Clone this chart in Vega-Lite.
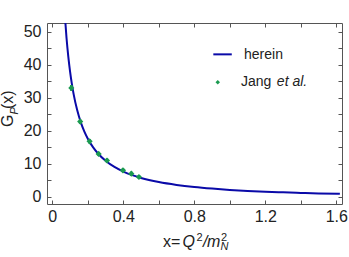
{
  "$schema": "https://vega.github.io/schema/vega-lite/v6.json",
  "width": 295,
  "height": 181,
  "autosize": {"type": "none"},
  "padding": {"left": 47, "top": 23, "right": 7, "bottom": 53},
  "background": "white",
  "config": {
    "view": {"stroke": "#555555", "strokeWidth": 1},
    "font": "Liberation Sans",
    "axis": {
      "labelFont": "Liberation Sans",
      "labelFontSize": 16,
      "labelColor": "#222222",
      "domain": false,
      "grid": false,
      "ticks": true,
      "tickColor": "#555555",
      "tickWidth": 1,
      "tickSize": -4,
      "title": null
    }
  },
  "datasets": {
    "curve": [
      {"x": 0.07, "y": 55.4}, {"x": 0.08, "y": 48.15}, {"x": 0.09, "y": 42.47},
      {"x": 0.10, "y": 37.93}, {"x": 0.11, "y": 34.22}, {"x": 0.12, "y": 31.13},
      {"x": 0.14, "y": 26.28}, {"x": 0.16, "y": 22.65}, {"x": 0.18, "y": 19.84},
      {"x": 0.20, "y": 17.60}, {"x": 0.23, "y": 14.97}, {"x": 0.26, "y": 12.96},
      {"x": 0.30, "y": 10.91}, {"x": 0.35, "y": 9.03}, {"x": 0.40, "y": 7.63},
      {"x": 0.45, "y": 6.56}, {"x": 0.50, "y": 5.71}, {"x": 0.60, "y": 4.46},
      {"x": 0.70, "y": 3.59}, {"x": 0.80, "y": 2.95}, {"x": 0.90, "y": 2.47},
      {"x": 1.00, "y": 2.08}, {"x": 1.10, "y": 1.78}, {"x": 1.20, "y": 1.53},
      {"x": 1.30, "y": 1.33}, {"x": 1.40, "y": 1.16}, {"x": 1.50, "y": 1.02},
      {"x": 1.62, "y": 0.88}
    ],
    "jang": [
      {"x": 0.107, "y": 33.0, "lo": 32.1, "hi": 33.9},
      {"x": 0.157, "y": 22.8, "lo": 22.1, "hi": 23.5},
      {"x": 0.210, "y": 16.8, "lo": 16.1, "hi": 17.5},
      {"x": 0.261, "y": 13.0, "lo": 12.4, "hi": 13.6},
      {"x": 0.308, "y": 11.0, "lo": 10.4, "hi": 11.6},
      {"x": 0.398, "y": 8.0, "lo": 7.4, "hi": 8.6},
      {"x": 0.445, "y": 7.0, "lo": 6.4, "hi": 7.6},
      {"x": 0.488, "y": 6.0, "lo": 5.4, "hi": 6.6}
    ]
  },
  "resolve": {"axis": {"x": "independent", "y": "independent"}},
  "layer": [
    {
      "data": {"name": "curve"},
      "mark": {"type": "line", "color": "#0a0aa8", "strokeWidth": 2, "clip": true, "interpolate": "monotone"},
      "encoding": {
        "x": {
          "field": "x", "type": "quantitative",
          "scale": {"domain": [-0.03, 1.632], "nice": false, "zero": false},
          "axis": {
            "orient": "bottom",
            "values": [0, 0.2, 0.4, 0.6, 0.8, 1.0, 1.2, 1.4, 1.6],
            "labelExpr": "abs(datum.value/0.4 - round(datum.value/0.4)) < 0.001 ? (datum.value == 0 ? '0' : format(datum.value, '.1f')) : ''",
            "labelPadding": 8,
            "labelFlush": false,
            "labelOverlap": false,
            "encode": {"ticks": {"update": {"y2": {"signal": "abs(datum.value/0.4 - round(datum.value/0.4)) < 0.001 ? -5 : -3"}}}}
          }
        },
        "y": {
          "field": "y", "type": "quantitative",
          "scale": {"domain": [-2.2, 52.7], "nice": false, "zero": false},
          "axis": {
            "orient": "left",
            "values": [0, 5, 10, 15, 20, 25, 30, 35, 40, 45, 50],
            "labelExpr": "datum.value % 10 === 0 ? datum.label : ''",
            "labelPadding": 10,
            "labelFlush": false,
            "labelOverlap": false,
            "encode": {"ticks": {"update": {"x2": {"signal": "datum.value % 10 === 0 ? 5 : 3"}}}}
          }
        }
      }
    },
    {
      "data": {"name": "jang"},
      "mark": {"type": "rule", "color": "#1a9a50", "strokeWidth": 2.5},
      "encoding": {
        "x": {"field": "x", "type": "quantitative", "axis": null},
        "y": {"field": "lo", "type": "quantitative", "axis": null},
        "y2": {"field": "hi"}
      }
    },
    {
      "data": {"name": "jang"},
      "mark": {"type": "point", "shape": "diamond", "filled": true, "color": "#1a9a50", "size": 38, "opacity": 1},
      "encoding": {
        "x": {
          "field": "x", "type": "quantitative",
          "axis": {
            "orient": "top", "labels": false,
            "values": [0, 0.2, 0.4, 0.6, 0.8, 1.0, 1.2, 1.4, 1.6],
            "encode": {"ticks": {"update": {"y2": {"signal": "abs(datum.value/0.4 - round(datum.value/0.4)) < 0.001 ? 5 : 3"}}}}
          }
        },
        "y": {
          "field": "y", "type": "quantitative",
          "axis": {
            "orient": "right", "labels": false,
            "values": [0, 5, 10, 15, 20, 25, 30, 35, 40, 45, 50],
            "encode": {"ticks": {"update": {"x2": {"signal": "datum.value % 10 === 0 ? -5 : -3"}}}}
          }
        }
      }
    },
    {
      "data": {"values": [{}]},
      "mark": {"type": "rule", "color": "#0a0aa8", "strokeWidth": 2},
      "encoding": {
        "x": {"datum": 0.907, "type": "quantitative", "axis": null},
        "x2": {"datum": 1.011},
        "y": {"datum": 43.19, "type": "quantitative", "axis": null}
      }
    },
    {
      "data": {"values": [{}]},
      "mark": {"type": "point", "shape": "diamond", "filled": true, "color": "#1a9a50", "size": 20, "opacity": 1},
      "encoding": {
        "x": {"datum": 0.932, "type": "quantitative", "axis": null},
        "y": {"datum": 34.7, "type": "quantitative", "axis": null}
      }
    },
    {
      "data": {"values": [{}]},
      "mark": {"type": "text", "text": "herein", "align": "left", "baseline": "alphabetic", "fontSize": 14, "font": "Liberation Sans", "color": "#222222"},
      "encoding": {
        "x": {"datum": 1.08, "type": "quantitative", "axis": null},
        "y": {"datum": 41.67, "type": "quantitative", "axis": null}
      }
    },
    {
      "data": {"values": [{}]},
      "mark": {"type": "text", "text": "Jang", "align": "left", "baseline": "alphabetic", "fontSize": 14, "font": "Liberation Sans", "color": "#222222"},
      "encoding": {
        "x": {"datum": 1.063, "type": "quantitative", "axis": null},
        "y": {"datum": 33.58, "type": "quantitative", "axis": null}
      }
    },
    {
      "data": {"values": [{}]},
      "mark": {"type": "text", "text": "et al.", "align": "left", "baseline": "alphabetic", "fontSize": 14, "font": "Liberation Sans", "fontStyle": "italic", "color": "#222222"},
      "encoding": {
        "x": {"datum": 1.265, "type": "quantitative", "axis": null},
        "y": {"datum": 33.58, "type": "quantitative", "axis": null}
      }
    },
    {
      "data": {"values": [{}]},
      "mark": {"type": "text", "text": "x=", "align": "left", "baseline": "alphabetic", "fontSize": 16, "font": "Liberation Sans", "color": "#222222"},
      "encoding": {
        "x": {"datum": 0.6237, "type": "quantitative", "axis": null},
        "y": {"datum": -15.17, "type": "quantitative", "axis": null}
      }
    },
    {
      "data": {"values": [{}]},
      "mark": {"type": "text", "text": "Q", "align": "left", "baseline": "alphabetic", "fontSize": 16, "font": "Liberation Sans", "fontStyle": "italic", "color": "#222222"},
      "encoding": {
        "x": {"datum": 0.7335, "type": "quantitative", "axis": null},
        "y": {"datum": -15.17, "type": "quantitative", "axis": null}
      }
    },
    {
      "data": {"values": [{}]},
      "mark": {"type": "text", "text": "2", "align": "left", "baseline": "alphabetic", "fontSize": 11, "font": "Liberation Sans", "color": "#222222"},
      "encoding": {
        "x": {"datum": 0.8124, "type": "quantitative", "axis": null},
        "y": {"datum": -13.44, "type": "quantitative", "axis": null}
      }
    },
    {
      "data": {"values": [{}]},
      "mark": {"type": "text", "text": "/", "align": "left", "baseline": "alphabetic", "fontSize": 16, "font": "Liberation Sans", "fontStyle": "italic", "color": "#222222"},
      "encoding": {
        "x": {"datum": 0.849, "type": "quantitative", "axis": null},
        "y": {"datum": -15.17, "type": "quantitative", "axis": null}
      }
    },
    {
      "data": {"values": [{}]},
      "mark": {"type": "text", "text": "m", "align": "left", "baseline": "alphabetic", "fontSize": 16, "font": "Liberation Sans", "fontStyle": "italic", "color": "#222222"},
      "encoding": {
        "x": {"datum": 0.8715, "type": "quantitative", "axis": null},
        "y": {"datum": -15.17, "type": "quantitative", "axis": null}
      }
    },
    {
      "data": {"values": [{}]},
      "mark": {"type": "text", "text": "2", "align": "left", "baseline": "alphabetic", "fontSize": 11, "font": "Liberation Sans", "color": "#222222"},
      "encoding": {
        "x": {"datum": 0.9504, "type": "quantitative", "axis": null},
        "y": {"datum": -13.44, "type": "quantitative", "axis": null}
      }
    },
    {
      "data": {"values": [{}]},
      "mark": {"type": "text", "text": "N", "align": "left", "baseline": "alphabetic", "fontSize": 11, "font": "Liberation Sans", "fontStyle": "italic", "color": "#222222"},
      "encoding": {
        "x": {"datum": 0.9476, "type": "quantitative", "axis": null},
        "y": {"datum": -16.17, "type": "quantitative", "axis": null}
      }
    },
    {
      "data": {"values": [{}]},
      "mark": {"type": "text", "text": "G", "angle": 270, "align": "left", "baseline": "alphabetic", "fontSize": 16, "font": "Liberation Sans", "color": "#222222"},
      "encoding": {
        "x": {"datum": -0.2242, "type": "quantitative", "axis": null},
        "y": {"datum": 21.14, "type": "quantitative", "axis": null}
      }
    },
    {
      "data": {"values": [{}]},
      "mark": {"type": "text", "text": "P", "angle": 270, "align": "left", "baseline": "alphabetic", "fontSize": 11, "font": "Liberation Sans", "fontStyle": "italic", "color": "#222222"},
      "encoding": {
        "x": {"datum": -0.196, "type": "quantitative", "axis": null},
        "y": {"datum": 24.93, "type": "quantitative", "axis": null}
      }
    },
    {
      "data": {"values": [{}]},
      "mark": {"type": "text", "text": "(x)", "angle": 270, "align": "left", "baseline": "alphabetic", "fontSize": 16, "font": "Liberation Sans", "color": "#222222"},
      "encoding": {
        "x": {"datum": -0.2242, "type": "quantitative", "axis": null},
        "y": {"datum": 26.6, "type": "quantitative", "axis": null}
      }
    }
  ]
}
